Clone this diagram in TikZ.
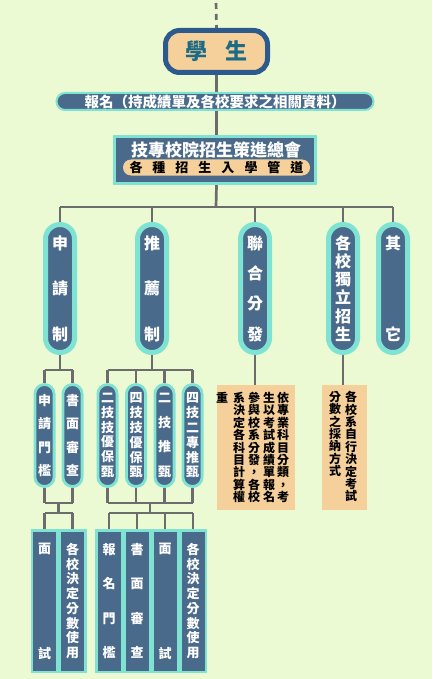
\documentclass[tikz,border=0pt]{standalone}
\usepackage{fontspec}
\setmainfont{Noto Sans CJK TC}
\definecolor{bgc}{HTML}{EBFAD3}
\definecolor{dk}{HTML}{4A6A8C}
\definecolor{cy}{HTML}{7FE3D3}
\definecolor{org}{HTML}{F6D09A}
\definecolor{stb}{HTML}{2C5A8C}
\definecolor{stt}{HTML}{1D6A86}
\definecolor{lnc}{HTML}{6C6C6C}
\pgfdeclarelayer{back}
\pgfdeclarelayer{wires}
\pgfsetlayers{back,wires,main}
\begin{document}
\begin{tikzpicture}[x=1pt,y=-1pt,
  conn/.style={draw=lnc,line width=2.7pt},
  catpill/.style={draw=cy,fill=dk,line width=5pt,minimum width=29pt,minimum height=128pt,
    rounded corners=14.4pt,inner sep=0pt,text=white,align=center,
    font=\bfseries\fontsize{16}{#1}\selectfont},
  subpill/.style={draw=cy,fill=dk,line width=2.8pt,minimum width=19.2pt,minimum height=102pt,
    rounded corners=9.5pt,inner sep=0pt,text=white,align=center,
    font=\bfseries\fontsize{13}{#1}\selectfont},
  botbox/.style={draw=cy,fill=dk,line width=2.5pt,minimum width=25.5pt,minimum height=141.5pt,
    inner sep=0pt,text=white,align=center,
    font=\bfseries\fontsize{13}{#1}\selectfont},
  orgbox/.style={fill=org,inner sep=0pt},
  coltext/.style={anchor=north,inner sep=0pt,align=center,text=black,
    font=\bfseries\fontsize{12}{12.4}\selectfont}
]
\useasboundingbox (0,0) rectangle (432,679);
\begin{pgfonlayer}{back}
\fill[bgc] (0,0) rectangle (432,679);
\end{pgfonlayer}

% top
\node[draw=stb,fill=org,line width=5pt,minimum width=102pt,minimum height=42pt,
  rounded corners=14pt,inner sep=0pt,text=stt,font=\bfseries\fontsize{22}{24}\selectfont]
  (stu) at (216.5,51.5) {學\hspace{18pt}生};
\node[draw=cy,fill=dk,line width=2pt,minimum width=317pt,minimum height=17pt,
  rounded corners=8.5pt,inner sep=0pt,text=white,font=\bfseries\fontsize{14.5}{16}\selectfont]
  (bm) at (215,101.5) {報名（持成績單及各校要求之相關資料）};
\node[draw=cy,fill=dk,line width=3pt,minimum width=201pt,minimum height=47pt,inner sep=0pt]
  (hui) at (215,160) {};
\node[inner sep=0pt,text=white,font=\bfseries\fontsize{17}{19}\selectfont]
  (huit) at (216,150) {技專校院招生策進總會};
\node[fill=org,minimum width=187pt,minimum height=16pt,rounded corners=8pt,inner sep=0pt,
  text=black,font=\bfseries\fontsize{13}{15}\selectfont]
  (ways) at (216.5,167.5) {各\hspace{10pt}種\hspace{10pt}招\hspace{10pt}生\hspace{10pt}入\hspace{10pt}學\hspace{10pt}管\hspace{10pt}道};

% categories
\node[catpill=45.5] (c1) at (60,288.5) {申\\請\\制};
\node[catpill=45.5] (c2) at (152,288.5) {推\\薦\\制};
\node[catpill=30.3] (c3) at (255,288.5) {聯\\合\\分\\發};
\node[catpill=18.2] (c4) at (343,288.5) {各\\校\\獨\\立\\招\\生};
\node[catpill=91] (c5) at (393,288.5) {其\\它};

% second row
\node[subpill=23.3] (s1) at (44.5,435.5) {申\\請\\門\\檻};
\node[subpill=23.3] (s2) at (72.5,435.5) {書\\面\\審\\查};
\node[subpill=14.8] (s3) at (107.5,435.5) {二\\技\\技\\優\\保\\甄};
\node[subpill=14.8] (s4) at (136,435.5) {四\\技\\技\\優\\保\\甄};
\node[subpill=24.5] (s5) at (164.5,435.5) {二\\技\\推\\甄};
\node[subpill=14.8] (s6) at (192.5,435.5) {四\\技\\二\\專\\推\\甄};

% bottom row
\node[botbox=105] (t1) at (44.5,601) {面\\試};
\node[botbox=14.7] (t2) at (72.5,601) {各\\校\\決\\定\\分\\數\\使\\用};
\node[botbox=34.3] (t3) at (109,601) {報\\名\\門\\檻};
\node[botbox=34.3] (t4) at (137,601) {書\\面\\審\\查};
\node[botbox=105] (t5) at (165,601) {面\\試};
\node[botbox=14.7] (t6) at (193,601) {各\\校\\決\\定\\分\\數\\使\\用};

% orange note boxes
\node[orgbox,minimum width=78pt,minimum height=125pt] (o1) at (256,447.5) {};
\node[coltext] (o1a) at (283,392) {依\\專\\業\\科\\目\\分\\類\\，\\考};
\node[coltext] (o1b) at (269,392) {生\\以\\考\\試\\成\\績\\單\\報\\名};
\node[coltext] (o1c) at (254,392) {參\\與\\校\\系\\分\\發\\，\\各\\校};
\node[coltext] (o1d) at (239,392) {系\\決\\定\\各\\科\\目\\計\\算\\權};
\node[coltext] (o1e) at (222,392) {重};
\node[orgbox,minimum width=45pt,minimum height=125pt] (o2) at (344.5,447.5) {};
\node[coltext] (o2a) at (351,391) {各\\校\\系\\自\\行\\決\\定\\考\\試};
\node[coltext] (o2b) at (335,391) {分\\數\\之\\採\\納\\方\\式};

% connectors
\coordinate (top) at (216,0);
\coordinate (bus) at (216,207);
\coordinate (b1) at (60,370);
\coordinate (b2) at (152,370);
\coordinate (m1) at (58.5,503);
\coordinate (n1) at (58.5,513);
\coordinate (m2) at (150,503);
\coordinate (n2) at (150,513);
\begin{pgfonlayer}{wires}
\draw[conn,dash pattern=on 6pt off 5pt,dash phase=8pt] (top) -- (stu.north);
\draw[conn] (stu.south) -- (stu.south |- bm.north);
\draw[conn] (bm.south -| stu.south) -- (hui.north -| stu.south);
\draw[conn] (hui.south -| stu.south) -- (bus);
\draw[conn] (bus -| c1.north) -- (bus -| c5.north);
\foreach \c in {c1,c2,c3,c4,c5} \draw[conn] (bus -| \c.north) -- (\c.north);
% sub branches
\draw[conn] (c1.south) -- (b1);
\draw[conn] (b1 -| s1.north) -- (b1 -| s2.north);
\foreach \c in {s1,s2} \draw[conn] (b1 -| \c.north) -- (\c.north);
\draw[conn] (c2.south) -- (b2);
\draw[conn] (b2 -| s3.north) -- (b2 -| s6.north);
\foreach \c in {s3,s4,s5,s6} \draw[conn] (b2 -| \c.north) -- (\c.north);
\draw[conn] (c3.south) -- (c3.south |- o1.north);
\draw[conn] (c4.south) -- (c4.south |- o2.north);
% lower branches
\foreach \c in {s1,s2} \draw[conn] (\c.south) -- (m1 -| \c.south);
\draw[conn] (m1 -| s1.south) -- (m1 -| s2.south);
\draw[conn] (m1) -- (n1);
\draw[conn] (n1 -| t1.north) -- (n1 -| t2.north);
\foreach \c in {t1,t2} \draw[conn] (n1 -| \c.north) -- (\c.north);
\foreach \c in {s3,s4,s5,s6} \draw[conn] (\c.south) -- (m2 -| \c.south);
\draw[conn] (m2 -| s3.south) -- (m2 -| s6.south);
\draw[conn] (m2) -- (n2);
\draw[conn] (n2 -| t3.north) -- (n2 -| t6.north);
\foreach \c in {t3,t4,t5,t6} \draw[conn] (n2 -| \c.north) -- (\c.north);
\end{pgfonlayer}
\end{tikzpicture}
\end{document}
